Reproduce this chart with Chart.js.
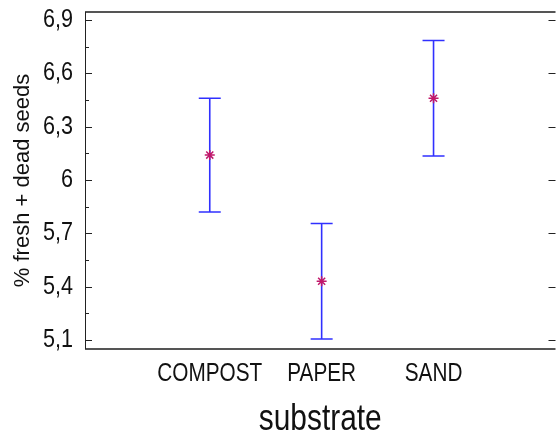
<!DOCTYPE html>
<html>
<head>
<meta charset="utf-8">
<script src="https://cdn.jsdelivr.net/npm/chart.js@4.4.1/dist/chart.umd.min.js"></script>
<style>
    html, body { margin: 0; padding: 0; overflow: hidden; background: #fff; }
    canvas { display: block; }
</style>
</head>
<body>
<canvas id="means-chart" width="562" height="438"></canvas>
<script>
// Means with interval bars per substrate
const categories = ['COMPOST', 'PAPER', 'SAND'];
const means = [6.14, 5.43, 6.46];
const lower = [5.82, 5.105, 6.135];
const upper = [6.46, 5.755, 6.785];
const yTicks = [5.1, 5.4, 5.7, 6, 6.3, 6.6, 6.9];
const yMinorTicks = [5.25, 5.55, 5.85, 6.15, 6.45, 6.75];

const narrowFont = "'Liberation Sans Narrow', 'Liberation Sans', Arial, sans-serif";
const plainFont = "'Liberation Sans', Arial, sans-serif";

const canvas = document.getElementById('means-chart');
const context = canvas.getContext('2d');

// No narrow face installed here, so squeeze text set in the narrow family
const rawFillText = context.fillText.bind(context);
context.fillText = function (text, x, y, maxWidth) {
    if (!this.font.includes('Narrow')) {
        return maxWidth === undefined ? rawFillText(text, x, y) : rawFillText(text, x, y, maxWidth);
    }
    this.save();
    this.translate(x, y);
    this.scale(0.83, 1);
    rawFillText(text, 0, 0);
    this.restore();
};

// Vertical interval bars with caps, drawn under the markers
const intervalBars = {
    id: 'intervalBars',
    beforeDatasetsDraw(chart) {
        const { ctx, scales: { x, y } } = chart;
        ctx.save();
        ctx.strokeStyle = '#3030ff';
        ctx.lineWidth = 1.6;
        for (let i = 0; i < means.length; i++) {
            const px = x.getPixelForValue(i + 1);
            const top = y.getPixelForValue(upper[i]);
            const bot = y.getPixelForValue(lower[i]);
            ctx.beginPath();
            ctx.moveTo(px, top);
            ctx.lineTo(px, bot);
            ctx.moveTo(px - 11, top);
            ctx.lineTo(px + 11, top);
            ctx.moveTo(px - 11, bot);
            ctx.lineTo(px + 11, bot);
            ctx.stroke();
        }
        ctx.restore();
    }
};

// Plot frame and inward tick marks
const frame = {
    id: 'frame',
    afterDraw(chart) {
        const { ctx, chartArea: a, scales: { y } } = chart;
        ctx.save();
        ctx.strokeStyle = '#555';
        ctx.lineWidth = 2;
        ctx.beginPath();
        ctx.moveTo(a.left, a.top);
        ctx.lineTo(a.right, a.top);
        ctx.moveTo(a.left, a.bottom);
        ctx.lineTo(a.right, a.bottom);
        ctx.stroke();

        ctx.strokeStyle = '#222';
        ctx.lineWidth = 1;
        ctx.beginPath();
        ctx.moveTo(a.left + 0.5, a.top);
        ctx.lineTo(a.left + 0.5, a.bottom);
        yTicks.forEach(v => {
            const py = Math.round(y.getPixelForValue(v)) + 0.5;
            ctx.moveTo(a.left, py);
            ctx.lineTo(a.left + 7, py);
            ctx.moveTo(a.right, py);
            ctx.lineTo(a.right - 7, py);
        });
        yMinorTicks.forEach(v => {
            const py = Math.round(y.getPixelForValue(v)) + 0.5;
            ctx.moveTo(a.left, py);
            ctx.lineTo(a.left + 4, py);
        });
        ctx.stroke();
        ctx.restore();
    }
};

new Chart(context, {
    type: 'scatter',
    data: {
        datasets: [{
            data: means.map((m, i) => ({ x: i + 1, y: m })),
            pointStyle: 'star',
            radius: 5,
            borderColor: '#c0186a',
            backgroundColor: '#c0186a',
            borderWidth: 1.5
        }]
    },
    options: {
        responsive: false,
        animation: false,
        layout: { padding: { top: 12, right: 2, left: 0, bottom: 0 } },
        plugins: {
            legend: { display: false },
            tooltip: { enabled: false }
        },
        scales: {
            x: {
                type: 'linear',
                min: -0.115,
                max: 4.09,
                grid: { display: false, drawTicks: false },
                border: { display: false },
                afterBuildTicks: s => { s.ticks = categories.map((c, i) => ({ value: i + 1 })); },
                afterFit: s => {
                    s.height = 89;
                    s.paddingLeft = 0;
                    s.paddingRight = 0;
                },
                ticks: {
                    autoSkip: false,
                    maxRotation: 0,
                    padding: 10,
                    color: '#111',
                    font: { family: narrowFont, size: 25, lineHeight: 1.2 },
                    callback: (v, i) => categories[i]
                },
                title: {
                    display: true,
                    text: 'substrate',
                    color: '#111',
                    padding: { top: 0, bottom: 0 },
                    font: { family: narrowFont, size: 36, lineHeight: 1 }
                }
            },
            y: {
                min: 5.049,
                max: 6.945,
                grid: { display: false, drawTicks: false },
                border: { display: false },
                afterBuildTicks: s => { s.ticks = yTicks.map(v => ({ value: v })); },
                afterFit: s => {
                    s.width = 85;
                    s.paddingTop = 0;
                    s.paddingBottom = 0;
                },
                ticks: {
                    padding: 12,
                    color: '#111',
                    font: { family: narrowFont, size: 26 },
                    callback: v => String(v).replace('.', ',')
                },
                title: {
                    display: true,
                    text: '% fresh + dead seeds',
                    color: '#111',
                    padding: { top: 10, bottom: 0 },
                    font: { family: plainFont, size: 22, lineHeight: 1.2 }
                }
            }
        }
    },
    plugins: [intervalBars, frame]
});
</script>
</body>
</html>
